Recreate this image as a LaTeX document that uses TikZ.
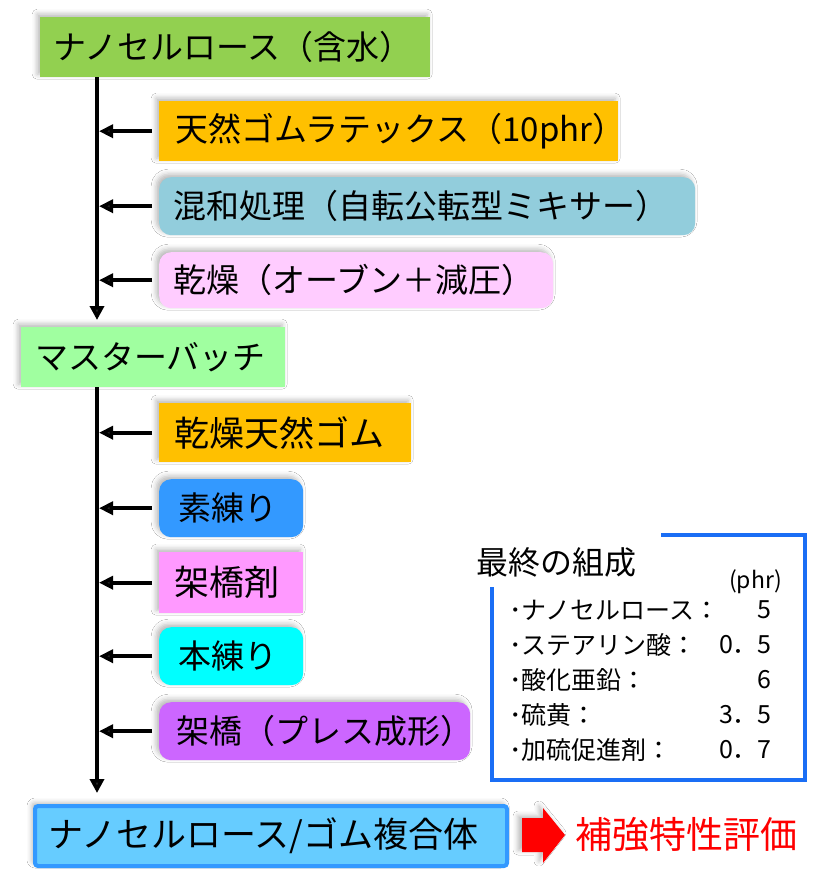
\documentclass[tikz,border=0pt]{standalone}
\usepackage{fontspec}
\setmainfont{Noto Sans CJK JP}
\usetikzlibrary{arrows.meta,shadows.blur}
\definecolor{cGreen}{HTML}{92D050}
\definecolor{cOrange}{HTML}{FFC000}
\definecolor{cLtBlue}{HTML}{92CDDC}
\definecolor{cLtPink}{HTML}{FFCCFF}
\definecolor{cPaleGreen}{HTML}{A0FFA0}
\definecolor{cBlue}{HTML}{3399FF}
\definecolor{cPink}{HTML}{FF99FF}
\definecolor{cCyan}{HTML}{00FFFF}
\definecolor{cPurple}{HTML}{CC66FF}
\definecolor{cSky}{HTML}{66CCFF}
\definecolor{cFrame}{HTML}{1A6EF5}
\newcommand{\bigf}{\fontsize{33}{40}\selectfont}
\newcommand{\kanjif}{\fontsize{35}{42}\selectfont}
\newcommand{\finf}{\fontsize{35}{42}\selectfont}
\newcommand{\midf}{\fontsize{32}{38}\selectfont}
\newcommand{\smf}{\fontsize{25}{30}\selectfont}
\newcommand{\phrf}{\fontsize{23}{28}\selectfont}
\newcommand{\redf}{\fontsize{37}{44}\selectfont}
\tikzset{
  box/.style={anchor=north west, inner ysep=0pt, font=\bigf,
    blur shadow={shadow xshift=-3pt, shadow yshift=3pt, shadow blur radius=5pt, shadow opacity=28}},
  rbox/.style={box, rounded corners=12pt},
  trunk/.style={line width=4pt, -{Triangle[length=14pt,width=14pt]}},
  feed/.style={line width=4pt, -{Triangle[length=14pt,width=13pt]}, shorten >=2pt},
  frame/.style={line width=4pt, draw=cFrame, line join=miter},
  item/.style={anchor=west, inner sep=0pt, font=\smf},
  num/.style={anchor=east, inner sep=0pt, font=\smf},
}
\begin{document}
\begin{tikzpicture}[x=1pt,y=-1pt]
\useasboundingbox[fill=white] (0,0) rectangle (825,883);

% first stage
\node[box, fill=cGreen, minimum width=390pt, minimum height=60pt, inner xsep=13pt] (nc) at (40,17)
  {\makebox[364pt][l]{ナノセルロース（含水）}};
\node[box, fill=cOrange, minimum width=459pt, minimum height=60pt, inner xsep=16pt] (latex) at (159,101)
  {\makebox[427pt][l]{天然ゴムラテックス（10phr）}};
\node[rbox, fill=cLtBlue, minimum width=536pt, minimum height=58pt, inner xsep=14pt] (mix) at (159,177)
  {\makebox[508pt][l]{混和処理（自転公転型ミキサー）}};
\node[rbox, fill=cLtPink, minimum width=394pt, minimum height=56pt, inner xsep=14pt] (dry) at (159,252)
  {\makebox[366pt][l]{乾燥（オーブン＋減圧）}};

% master batch
\node[box, fill=cPaleGreen, minimum width=264pt, minimum height=60pt, inner xsep=14pt] (mb) at (21,327)
  {\makebox[236pt][l]{マスターバッチ}};

% second stage
\node[box, fill=cOrange, minimum width=252pt, minimum height=59pt, inner xsep=15pt, font=\kanjif] (dnr) at (159,403)
  {\makebox[222pt][l]{乾燥天然ゴム}};
\node[rbox, fill=cBlue, minimum width=144pt, minimum height=58pt, inner xsep=19pt] (mast) at (159,479)
  {\makebox[106pt][l]{素練り}};
\node[box, fill=cPink, minimum width=144pt, minimum height=61pt, inner xsep=15pt, font=\kanjif] (agent) at (159,552)
  {\makebox[114pt][l]{架橋剤}};
\node[rbox, fill=cCyan, minimum width=144pt, minimum height=58pt, inner xsep=19pt] (knead) at (159,627)
  {\makebox[106pt][l]{本練り}};
\node[rbox, fill=cPurple, minimum width=311pt, minimum height=58pt, inner xsep=17pt] (press) at (159,702)
  {\makebox[277pt][l]{架橋（プレス成形）}};

% final
\node[box, fill=cSky, draw=cBlue, line width=4pt, rounded corners=3pt, minimum width=472pt, minimum height=60pt, inner xsep=13pt, font=\finf] (comp) at (33,804)
  {\makebox[446pt][l]{ナノセルロース/ゴム複合体}};
\node[anchor=west, inner sep=0pt, font=\redf, text=red] (eval) at (575,835) {補強特性評価};
\fill[red, blur shadow={shadow xshift=-4pt, shadow yshift=2pt, shadow blur radius=5pt, shadow opacity=28}]
  (522,818) -- (543,818) -- (543,808) -- (565,835) -- (543,863) -- (543,852) -- (522,852) -- cycle;

% trunk lines
\path (nc.south west) ++(57,0) coordinate (t1);
\draw[trunk, shorten >=7pt] (t1) -- (t1 |- mb.north);
\path (mb.south west) ++(76,0) coordinate (t2);
\draw[trunk, shorten >=11pt] (t2) -- (t2 |- comp.north);

% feed arrows
\foreach \n in {latex,mix,dry}{
  \draw[feed] ([xshift=-7pt]\n.west) -- (\n.west -| t1);
}
\foreach \n in {dnr,mast,agent,knead,press}{
  \draw[feed] ([xshift=-7pt]\n.west) -- (\n.west -| t2);
}

% composition panel
\draw[frame] (661,535) -- (805,535) -- (805,780) -- (492,780) -- (492,587);
\node[anchor=west, inner sep=0pt, font=\midf] (title) at (476,562) {最終の組成};
\node[anchor=east, inner sep=0pt, font=\phrf] (unit) at (782,582) {(phr)};
\node[item] (i1) at (509,610) {･ナノセルロース：};
\node[num] (n1) at (772,610) {5};
\node[item] (i2) at (509,645) {･ステアリン酸：};
\node[num] (n2) at (772,645) {0．5};
\node[item] (i3) at (509,680) {･酸化亜鉛：};
\node[num] (n3) at (772,680) {6};
\node[item] (i4) at (509,715) {･硫黄：};
\node[num] (n4) at (772,715) {3．5};
\node[item] (i5) at (509,750) {･加硫促進剤：};
\node[num] (n5) at (772,750) {0．7};
\end{tikzpicture}
\end{document}
